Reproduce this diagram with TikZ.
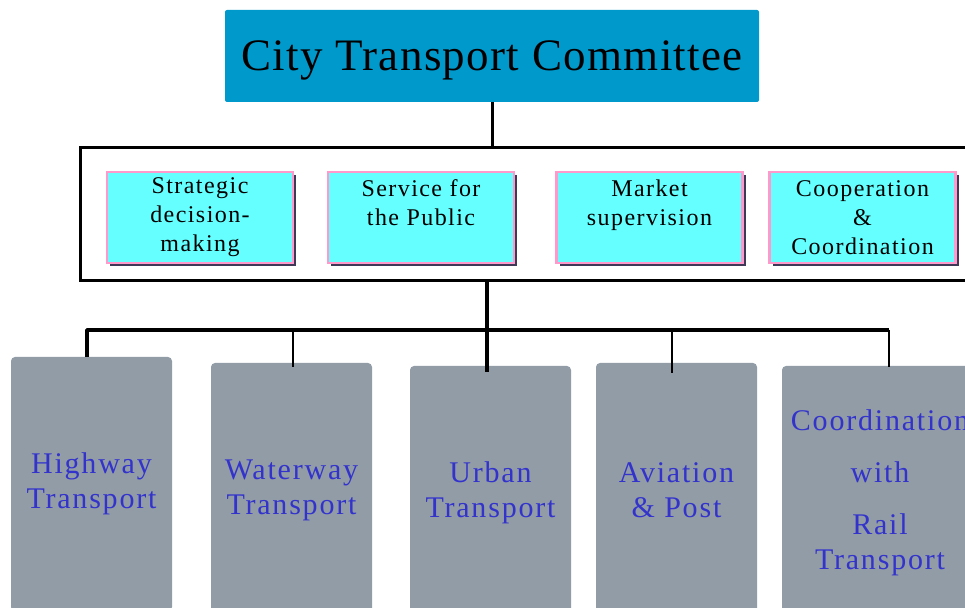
\documentclass[tikz,border=0pt]{standalone}
\usepackage{fontspec}
\setmainfont{Liberation Serif}
\newfontfamily\headfont[LetterSpace=3]{Liberation Serif}
\newfontfamily\boxfont[LetterSpace=6]{Liberation Serif}
\usetikzlibrary{shadows}
\begin{document}
\begin{tikzpicture}[x=1pt,y=1pt,
  headbox/.style={fill=headColor,rounded corners=2pt,minimum width=534pt,minimum height=92pt,inner sep=0pt,text depth=0pt,font=\headfont\fontsize{45}{54}\selectfont},
  dutybox/.style={draw=edgeColor,line width=2.5pt,fill=dutyColor,minimum width=186pt,minimum height=91pt,inner sep=0pt,align=center,font=\boxfont\fontsize{24}{29}\selectfont,drop shadow={shadow xshift=3pt,shadow yshift=-3pt,fill=shadeColor,opacity=1}},
  unitbox/.style={fill=unitColor,rounded corners=4pt,minimum width=161pt,minimum height=254pt,inner sep=0pt,align=center,text=unitText,font=\boxfont\fontsize{30}{35}\selectfont},
  trunk/.style={line width=3.5pt,line join=round},
  branch/.style={line width=1.3pt}]
\definecolor[named]{fillColor}{rgb}{1.00,1.00,1.00}
\path[use as bounding box,fill=fillColor] (0,0) rectangle (965,607);
\begin{scope}
\path[clip] (0,0) rectangle (965,607);
\definecolor[named]{headColor}{rgb}{0.00,0.60,0.80}
\definecolor[named]{dutyColor}{rgb}{0.40,1.00,1.00}
\definecolor[named]{edgeColor}{rgb}{1.00,0.60,0.80}
\definecolor[named]{shadeColor}{rgb}{0.25,0.22,0.34}
\definecolor[named]{unitColor}{rgb}{0.57,0.61,0.65}
\definecolor[named]{unitText}{rgb}{0.20,0.20,0.80}

\node[headbox] (title) at (492,551) {City Transport Committee};

\node[draw,line width=3pt,minimum width=930pt,minimum height=133pt,inner sep=0pt] (frame) at (545,392.5) {};

\node[dutybox] (strategy) at (200,389.5) {Strategic\\decision-\\making};
\node[dutybox] (service) at (421,389.5) {Service for\\the Public\\\mbox{}};
\node[dutybox] (market) at (649.5,389.5) {Market\\supervision\\\mbox{}};
\node[dutybox] (coop) at (862.5,389.5) {Cooperation\\\&\\Coordination};

\node[unitbox] (highway) at (91.5,123) {Highway\\Transport};
\node[unitbox] (water) at (291.5,117) {Waterway\\Transport};
\node[unitbox] (urban) at (490.5,114) {Urban\\Transport};
\node[unitbox] (air) at (676.5,117) {Aviation\\\& Post};
\node[unitbox,minimum width=196pt] (rail) at (880,114) {Coordination\\[17pt]with\\[17pt]Rail\\Transport};

\coordinate (bus) at (487,277);

\draw[line width=3pt] (title.south) -- (title.south |- frame.north);
\draw[trunk] ([xshift=-3.5pt]urban.north |- frame.south) -- ([xshift=-3.5pt,yshift=-6pt]urban.north);
\draw[trunk] ([xshift=-4.5pt]highway.north) -- ([xshift=-4.5pt]highway.north |- bus) -- ([xshift=9pt]rail.north |- bus);
\draw[branch] ([xshift=9pt]rail.north |- bus) -- ([xshift=9pt,yshift=-1pt]rail.north);
\draw[branch] ([xshift=1.5pt]water.north |- bus) -- ([xshift=1.5pt,yshift=-4pt]water.north);
\draw[branch] ([xshift=-4.5pt]air.north |- bus) -- ([xshift=-4.5pt,yshift=-10pt]air.north);
\end{scope}
\end{tikzpicture}
\end{document}
